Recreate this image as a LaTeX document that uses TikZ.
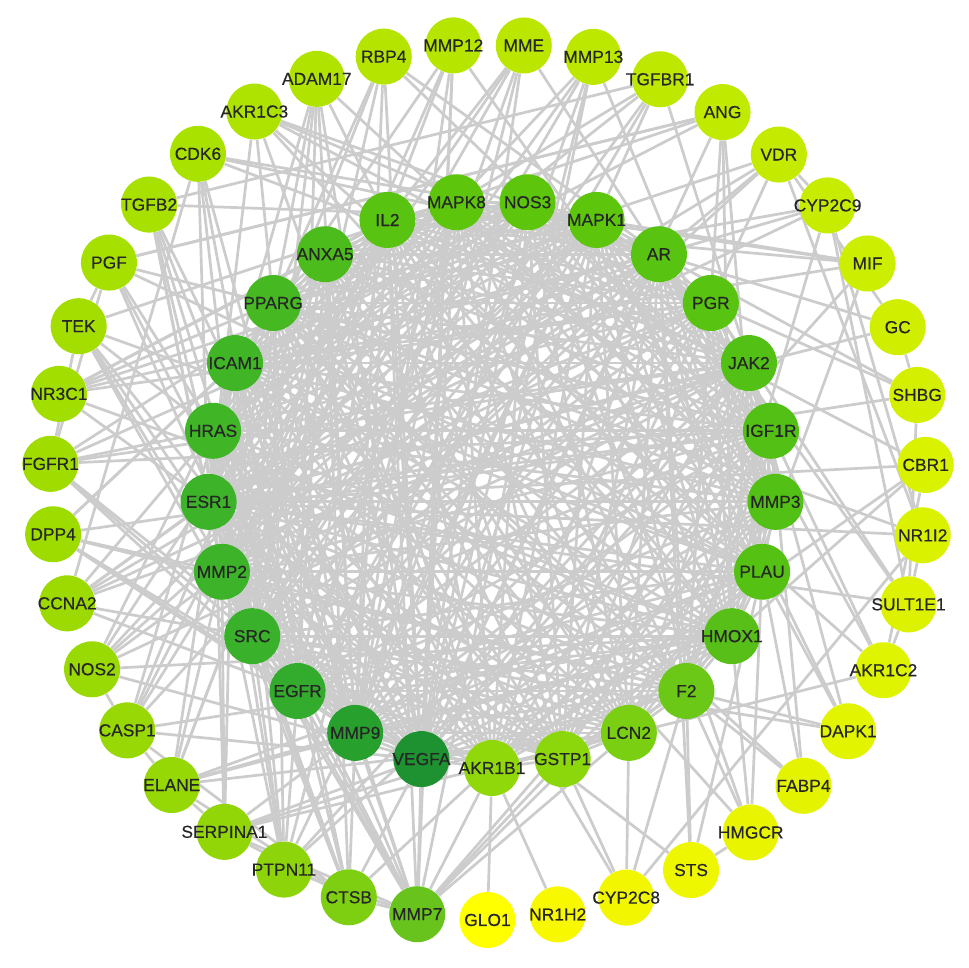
\documentclass[tikz,border=0pt]{standalone}
\usepackage{fontspec}
\setmainfont{Liberation Sans}
\newfontfamily\labfont{Liberation Sans}[FakeBold=0.35]
\pgfdeclarelayer{bg}
\pgfsetlayers{bg,main}
\begin{document}
\begin{tikzpicture}[x=0.5pt,y=-0.5pt,
  gene/.style={circle,minimum size=28pt,inner sep=0pt},
  glab/.style={font=\labfont\fontsize{8.7}{9}\selectfont,text=black!85,inner sep=0pt},
  edge/.style={draw=black!20,line width=1.35pt}]
\useasboundingbox (0,0) rectangle (969,968);
% inner ring
\begin{scope}[shift={(492,484)}]
\foreach \a/\c [count=\i from 0] in {VEGFA/1E9130, MMP9/28A02E, EGFR/33AB2C, SRC/3AB12A, MMP2/3CB328, ESR1/3CB328, HRAS/40B626, ICAM1/40B626, PPARG/46B922, ANXA5/4CBC1C, IL2/58C310, MAPK8/5CC50C, NOS3/5CC50C, MAPK1/5CC50C, AR/58C310, PGR/58C310, JAK2/52C014, IGF1R/52C014, MMP3/52C014, PLAU/55C112, HMOX1/58BF18, F2/6CC816, LCN2/7ACF12, GSTP1/8CD60C, AKR1B1/90D80A} {
  \definecolor{nc}{HTML}{\c}
  \pgfmathsetmacro\ang{104.4+14.4*\i}
  \node[gene,fill=nc,name=\a,alias=in\i,label={[glab]center:\a}] at (\ang:284) {};
}
\end{scope}
% outer ring
\begin{scope}[shift={(488,482)}]
\foreach \a/\c [count=\i from 0] in {MMP7/68C41C, CTSB/7ECE12, PTPN11/8ED40A, SERPINA1/92D608, ELANE/96D806, CASP1/98D804, NOS2/9ADA04, CCNA2/9CDA02, DPP4/9EDC00, FGFR1/A0DC00, NR3C1/A2DE00, TEK/A4DE00, PGF/A6E000, TGFB2/A8E000, CDK6/AAE200, AKR1C3/AEE200, ADAM17/B0E400, RBP4/B4E400, MMP12/B6E600, MME/BAE600, MMP13/BCE800, TGFBR1/BEE800, ANG/C0EA00, VDR/C4EA00, CYP2C9/C8EC00, MIF/CCEE00, GC/D0EE00, SHBG/D4F000, CBR1/D8F200, NR1I2/DAF200, SULT1E1/DCF200, AKR1C2/DEF400, DAPK1/E2F400, FABP4/E4F400, HMGCR/E8F400, STS/EEF600, CYP2C8/F2F600, NR1H2/F8F800, GLO1/FFFF00} {
  \definecolor{nc}{HTML}{\c}
  \pgfmathsetmacro\ang{99.3+9.2308*\i}
  \node[gene,fill=nc,name=\a,alias=out\i,label={[glab]center:\a}] at (\ang:438) {};
}
\end{scope}
\begin{pgfonlayer}{bg}
\fill[white] (0,0) rectangle (969,968);
% inner-inner edges
\foreach \i in {0,...,23} {
  \pgfmathtruncatemacro\s{\i+1}
  \foreach \j in {\s,...,24} {
    \pgfmathtruncatemacro\m{mod(\i*7+\j*13,17)}
    \ifnum\m=0\relax\else
      \draw[edge] (in\i) -- (in\j);
    \fi
  }
}
% outer edges
\foreach \u/\v in {
 MMP7/VEGFA, MMP7/MMP9, MMP7/EGFR, MMP7/SRC, MMP7/MMP2, MMP7/ESR1, MMP7/HRAS, MMP7/ICAM1, MMP7/PLAU, MMP7/MMP3, MMP7/GSTP1, MMP7/LCN2, MMP7/CTSB, MMP7/SERPINA1, MMP7/PTPN11, MMP7/IL2, MMP7/AKR1B1,
 CTSB/VEGFA, CTSB/MMP9, CTSB/EGFR, CTSB/SRC, CTSB/MMP2, CTSB/MMP3, CTSB/ESR1, CTSB/ICAM1, CTSB/CASP1, CTSB/ELANE, CTSB/SERPINA1, CTSB/ANXA5,
 PTPN11/EGFR, PTPN11/SRC, PTPN11/HRAS, PTPN11/JAK2, PTPN11/IGF1R, PTPN11/MAPK1, PTPN11/PPARG, PTPN11/ESR1, PTPN11/MAPK8, PTPN11/ICAM1,
 SERPINA1/ELANE, SERPINA1/MMP9, SERPINA1/MMP2, SERPINA1/VEGFA, SERPINA1/ICAM1, SERPINA1/HRAS, SERPINA1/F2, SERPINA1/LCN2,
 ELANE/MMP9, ELANE/MMP2, ELANE/ICAM1, ELANE/CASP1, ELANE/LCN2, ELANE/PLAU, ELANE/HMOX1, ELANE/IL2,
 CASP1/MAPK8, CASP1/MAPK1, CASP1/NOS2, CASP1/IL2, CASP1/ICAM1, CASP1/HMOX1, CASP1/VEGFA, CASP1/ANXA5,
 NOS2/NOS3, NOS2/HMOX1, NOS2/IL2, NOS2/JAK2, NOS2/MAPK1, NOS2/VEGFA, NOS2/PPARG, NOS2/AR,
 CCNA2/SRC, CCNA2/EGFR, CCNA2/ESR1, CCNA2/AR, CCNA2/PGR, CCNA2/CDK6, CCNA2/MAPK1, CCNA2/HRAS, CCNA2/JAK2,
 DPP4/IL2, DPP4/ICAM1, DPP4/VEGFA, DPP4/EGFR, DPP4/MMP2, DPP4/MMP9, DPP4/IGF1R, DPP4/F2,
 FGFR1/EGFR, FGFR1/SRC, FGFR1/HRAS, FGFR1/MAPK1, FGFR1/MAPK8, FGFR1/VEGFA, FGFR1/PGF, FGFR1/TEK, FGFR1/IGF1R, FGFR1/JAK2,
 NR3C1/ESR1, NR3C1/AR, NR3C1/PGR, NR3C1/PPARG, NR3C1/VDR, NR3C1/HMOX1, NR3C1/IL2, NR3C1/ANXA5,
 TEK/VEGFA, TEK/PGF, TEK/ANG, TEK/SRC, TEK/EGFR, TEK/MMP9, TEK/HRAS, TEK/PLAU,
 PGF/VEGFA, PGF/EGFR, PGF/MMP9, PGF/IGF1R, PGF/PLAU, PGF/ANG,
 TGFB2/VEGFA, TGFB2/MMP2, TGFB2/MMP9, TGFB2/TGFBR1, TGFB2/SRC, TGFB2/EGFR, TGFB2/MAPK1, TGFB2/ESR1,
 CDK6/SRC, CDK6/EGFR, CDK6/ESR1, CDK6/AR, CDK6/MAPK1, CDK6/JAK2, CDK6/MMP9,
 AKR1C3/AR, AKR1C3/PGR, AKR1C3/ESR1, AKR1C3/AKR1C2, AKR1C3/AKR1B1, AKR1C3/PPARG, AKR1C3/HMOX1,
 ADAM17/EGFR, ADAM17/MMP2, ADAM17/MMP9, ADAM17/MMP3, ADAM17/ICAM1, ADAM17/SRC, ADAM17/VEGFA, ADAM17/IL2,
 RBP4/PPARG, RBP4/MMP9, RBP4/ESR1, RBP4/VEGFA, RBP4/IGF1R, RBP4/AR, RBP4/SRC,
 MMP12/MMP9, MMP12/MMP2, MMP12/MMP3, MMP12/MMP7, MMP12/ELANE, MMP12/VEGFA, MMP12/ICAM1,
 MME/MMP9, MME/ESR1, MME/IL2, MME/VEGFA, MME/EGFR, MME/AR, MME/MMP2,
 MMP13/MMP3, MMP13/MMP2, MMP13/MMP9, MMP13/MMP7, MMP13/VEGFA, MMP13/SRC, MMP13/MAPK8,
 TGFBR1/EGFR, TGFBR1/SRC, TGFBR1/MAPK1, TGFBR1/MAPK8, TGFBR1/JAK2, TGFBR1/HRAS,
 ANG/VEGFA, ANG/PGF, ANG/PLAU, ANG/HMOX1, ANG/F2, ANG/ICAM1,
 VDR/ESR1, VDR/AR, VDR/PGR, VDR/CYP2C9, VDR/NR1I2, VDR/GC, VDR/SRC,
 CYP2C9/NR1I2, CYP2C9/SULT1E1, CYP2C9/CYP2C8, CYP2C9/ESR1, CYP2C9/AR, CYP2C9/PPARG,
 MIF/IL2, MIF/MAPK1, MIF/ICAM1, MIF/HMOX1, MIF/MAPK8, MIF/VEGFA,
 GC/SHBG, GC/ESR1, GC/AR,
 SHBG/ESR1, SHBG/AR, SHBG/PGR, SHBG/SULT1E1,
 CBR1/AKR1C3, CBR1/AKR1B1, CBR1/AKR1C2, CBR1/HMOX1, CBR1/ESR1,
 NR1I2/CYP2C8, NR1I2/PPARG, NR1I2/ESR1, NR1I2/SULT1E1,
 SULT1E1/ESR1, SULT1E1/AR, SULT1E1/PGR, SULT1E1/AKR1C2,
 AKR1C2/AKR1B1, AKR1C2/AR, AKR1C2/PGR,
 DAPK1/MAPK1, DAPK1/SRC, DAPK1/JAK2, DAPK1/PLAU, DAPK1/F2,
 FABP4/PPARG, FABP4/PLAU, FABP4/IGF1R, FABP4/F2,
 HMGCR/PPARG, HMGCR/NOS3, HMGCR/PLAU, HMGCR/F2, HMGCR/HMOX1,
 STS/ESR1, STS/AR, STS/F2, STS/HMGCR, STS/PLAU,
 CYP2C8/GSTP1, CYP2C8/LCN2, CYP2C8/PPARG,
 NR1H2/AKR1B1, GLO1/AKR1B1}
 {\draw[edge] (\u) -- (\v);}
\end{pgfonlayer}
\end{tikzpicture}
\end{document}
